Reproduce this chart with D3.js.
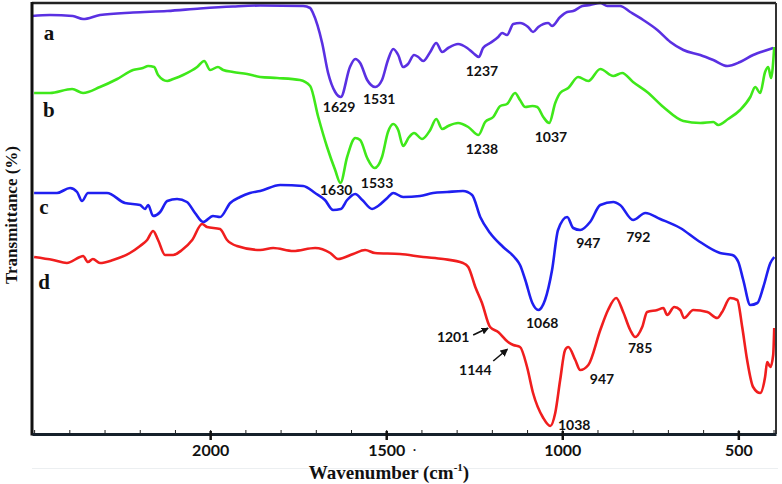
<!DOCTYPE html>
<html>
<head>
<meta charset="utf-8">
<script src="https://cdn.jsdelivr.net/npm/d3@7"></script>
<style>
  body { margin: 0; background: #fff; }
  svg { display: block; }
</style>
</head>
<body>
<script>
// FTIR spectra, wavenumber (cm-1) vs. transmittance (offset, arbitrary %)
const curveA = [[2506,83.6],[2455,83.8],[2390,83.6],[2361,83.0],[2313,83.8],[2219,84.3],[2122,84.6],[2029,85.1],[1935,85.5],[1858,85.7],[1736,85.6],[1716,85.2],[1708,84.2],[1682,78.2],[1665,72.2],[1645,68.4],[1629,67.4],[1603,73.4],[1588,75],[1574,74.2],[1554,70.8],[1531,69.4],[1512,70.8],[1495,74.8],[1480,77],[1466,75.8],[1452,73.4],[1438,74],[1421,75.8],[1409,75.4],[1395,74.6],[1375,76.4],[1358,78.2],[1341,76.4],[1324,77.2],[1296,78],[1270,77.2],[1253,76.2],[1237,75.4],[1225,77.2],[1205,78.2],[1182,79.4],[1171,80.2],[1157,79.8],[1139,82],[1120,82.2],[1097,81.4],[1083,80.4],[1068,81.4],[1040,82.2],[1029,81.6],[1006,83.4],[986,84.4],[969,84.6],[943,85.6],[921,85.8],[892,86.2],[872,85.6],[836,85.6],[807,84.4],[770,82.8],[730,80.8],[693,78.4],[656,76.8],[608,75.8],[571,74.8],[531,73.6],[495,74.4],[458,75.8],[418,76.8],[401,77.2]];

const curveB = [[2500,68.2],[2455,68.2],[2392,69],[2361,68.2],[2313,69.4],[2264,71],[2219,72.8],[2191,73.2],[2176,73.6],[2159,73.4],[2148,71.8],[2122,70.6],[2105,71],[2077,71.8],[2037,73.4],[2017,74.6],[2000,72.8],[1978,73.4],[1963,72.8],[1935,72.4],[1895,72],[1858,71.4],[1810,71.2],[1745,70.8],[1716,69.6],[1693,63.4],[1668,57.4],[1645,52.8],[1630,50.2],[1611,55.4],[1588,59.2],[1574,58.8],[1554,55.2],[1533,53.2],[1512,55.4],[1495,60.4],[1480,62],[1466,60.8],[1452,57.6],[1435,59.4],[1421,60.2],[1398,59],[1375,60.8],[1358,63],[1341,61],[1324,61.6],[1296,62.2],[1267,61.4],[1238,59.8],[1219,62.4],[1196,63.4],[1176,65.6],[1157,66],[1134,68.2],[1120,66.8],[1105,65.4],[1085,65.6],[1071,65.4],[1054,63.4],[1037,62.2],[1020,66.2],[1006,68.2],[983,69.2],[955,71.4],[926,70.6],[892,73],[855,71.6],[830,72.2],[799,70.4],[759,68.4],[713,65.4],[656,62.6],[608,62.2],[571,62.4],[557,61.8],[529,63],[495,64.8],[466,67.4],[452,69.4],[438,68.2],[424,72.4],[415,73.4],[407,71.2],[398,77.4]];

const curveC = [[2500,48.2],[2435,48.2],[2398,49.2],[2378,48.4],[2364,46.6],[2347,48.2],[2293,48.2],[2242,46.2],[2199,45.8],[2185,45],[2176,45.8],[2162,43.6],[2142,44.4],[2122,46.6],[2094,47],[2066,46.4],[2043,44.2],[2020,42.4],[1992,43.6],[1972,43.4],[1943,46.2],[1915,47.4],[1887,48.2],[1858,48.6],[1801,49.8],[1736,49.6],[1702,48.2],[1674,46.8],[1651,44.8],[1629,45],[1611,46.8],[1588,48],[1568,46.8],[1540,45],[1523,45.6],[1497,47.2],[1480,48.2],[1452,47.4],[1404,47.6],[1367,48.2],[1327,48.4],[1282,48.6],[1256,47.8],[1233,43.4],[1205,40.2],[1168,37.4],[1134,35.2],[1120,33.8],[1105,30.8],[1085,26.2],[1068,24.8],[1049,26.8],[1029,32.8],[1012,40.8],[986,43.4],[969,41.2],[949,40.8],[921,42.4],[892,45.8],[855,46.4],[836,45.8],[799,42.8],[764,44.2],[722,43],[665,41.2],[617,38.8],[552,36.2],[517,35.8],[500,34.4],[486,30.8],[466,25.8],[446,26.2],[429,29.4],[409,34.2],[398,35.4]];

const curveD = [[2500,35.4],[2446,34.8],[2407,34.2],[2370,35.4],[2361,35.6],[2347,34.4],[2333,35],[2313,34.2],[2276,34.8],[2228,36.2],[2199,37.6],[2179,38.8],[2162,40.6],[2148,38.8],[2128,35.8],[2105,35.8],[2080,36.8],[2051,38.8],[2023,42],[2009,41.4],[1972,41],[1952,38.8],[1924,37.6],[1858,36.8],[1821,37.2],[1764,36.6],[1702,37.2],[1659,36.2],[1637,35],[1594,36],[1560,36.8],[1532,36.2],[1461,36],[1395,35.4],[1338,35],[1282,34.2],[1267,33.4],[1247,29.4],[1228,26.2],[1205,21.4],[1182,20.4],[1154,18.4],[1139,17.8],[1120,17.4],[1100,13.4],[1083,8.2],[1054,3.2],[1034,1.6],[1020,4.2],[1006,10.8],[992,16.8],[983,17.4],[963,14.8],[949,12.8],[926,13.8],[892,20.8],[870,24.8],[847,27.2],[827,24.4],[807,20.8],[793,19.4],[773,21.4],[759,24.4],[730,24.8],[713,25.2],[702,23.8],[682,25.4],[665,24.8],[654,23.2],[628,24.8],[588,24.4],[560,23.2],[546,24.4],[523,27.2],[503,26.8],[489,21.4],[475,14.8],[458,9.4],[438,8.2],[424,11.4],[418,14.4],[409,13.4],[401,15.8],[398,21.2]];

const seriesNames = ["a", "b", "c", "d"];
const seriesColors = ["#5a30e2", "#3fe81a", "#1f1ff0", "#f01e1e"];
const seriesData = [curveA, curveB, curveC, curveD];
// where each curve letter sits (wavenumber, transmittance)
const letterPos = [[2458, 80.2], [2458, 64.8], [2472, 45.4], [2472, 30.4]];

const xTicks = [2000, 1500, 1000, 500];

// peak labels: text, wavenumber and transmittance of label centre
const peakLabels = [
  ["1629", 1634, 65.4], ["1531", 1520, 67], ["1237", 1228, 72.6],
  ["1630", 1642, 48.8], ["1533", 1526, 50.2], ["1238", 1228, 57], ["1037", 1032, 59.4],
  ["947", 926, 38.2], ["792", 784, 39.4], ["1068", 1057, 22.2],
  ["785", 779, 17.2], ["947", 887, 11], ["1038", 966, 1.8],
  ["1201", 1310, 19.4], ["1144", 1247, 12.8]
];
// arrows: from [wn, T] to [wn, T]
const arrows = [
  [[1253, 19.8], [1211, 21.2]],
  [[1196, 14.6], [1157, 16.9]]
];

const width = 782, height = 484;
const plotLeft = 32, plotRight = 776, plotTop = 3, plotBottom = 434;

const svg = d3.select("body").append("svg")
  .attr("width", width)
  .attr("height", height);

svg.append("defs").append("marker")
  .attr("id", "arr")
  .attr("viewBox", "0 0 10 10")
  .attr("refX", 8).attr("refY", 5)
  .attr("markerWidth", 5).attr("markerHeight", 5)
  .attr("orient", "auto")
  .append("path")
  .attr("d", "M0,0 L10,5 L0,10 Z")
  .attr("fill", "#111");

const x = d3.scaleLinear().domain([2506, 393]).range([plotLeft, plotRight]);
const y = d3.scaleLinear().domain([0, 86.2]).range([plotBottom, plotTop]);

// curves
const line = d3.line()
  .x(d => x(d[0]))
  .y(d => y(d[1]))
  .curve(d3.curveMonotoneX);

svg.append("g")
  .selectAll("path")
  .data(seriesData)
  .join("path")
  .attr("d", line)
  .attr("fill", "none")
  .attr("stroke", (d, i) => seriesColors[i])
  .attr("stroke-width", 2.6)
  .attr("stroke-linejoin", "round");

// frame
svg.append("line").attr("x1", plotLeft).attr("x2", plotRight).attr("y1", plotTop).attr("y2", plotTop)
  .attr("stroke", "#222").attr("stroke-width", 2.5);
svg.append("line").attr("x1", plotRight).attr("x2", plotRight).attr("y1", plotTop).attr("y2", plotBottom)
  .attr("stroke", "#333").attr("stroke-width", 2);
svg.append("line").attr("x1", plotLeft).attr("x2", plotLeft).attr("y1", plotTop - 1).attr("y2", plotBottom + 1.5)
  .attr("stroke", "#111").attr("stroke-width", 3);

// minor ticks (inside)
svg.append("g")
  .attr("transform", `translate(0,${plotBottom})`)
  .call(d3.axisBottom(x).tickValues(d3.range(2500, 399, -100)).tickSize(-4).tickFormat(""))
  .call(g => g.select(".domain").remove())
  .call(g => g.selectAll("line").attr("stroke", "#222").attr("stroke-width", 1));

// major axis
const xAxis = svg.append("g")
  .attr("transform", `translate(0,${plotBottom})`)
  .call(d3.axisBottom(x).tickValues(xTicks).tickFormat(d3.format("d"))
    .tickSize(6).tickSizeOuter(0).tickPadding(5));
xAxis.select(".domain").attr("stroke", "#15202a").attr("stroke-width", 3);
xAxis.selectAll(".tick line").attr("stroke", "#111").attr("stroke-width", 2.5).attr("y1", -3);
xAxis.selectAll(".tick text")
  .attr("font-family", "Lato, 'Open Sans', sans-serif")
  .attr("font-weight", "bold")
  .attr("font-size", 16)
  .attr("fill", "#111");

// stray dot near 1500 in the original figure
svg.append("text").attr("x", x(1424)).attr("y", 451)
  .attr("font-size", 12).attr("font-weight", "bold").attr("fill", "#111").text(".");

// light rule under tick labels
svg.append("line").attr("x1", plotLeft).attr("x2", 778).attr("y1", 468.5).attr("y2", 468.5)
  .attr("stroke", "#eceff1").attr("stroke-width", 1);

// axis titles
const xTitle = svg.append("text")
  .attr("x", 389).attr("y", 479)
  .attr("text-anchor", "middle")
  .attr("font-family", "'Liberation Serif', 'DejaVu Serif', serif")
  .attr("font-weight", "bold")
  .attr("font-size", 19)
  .attr("fill", "#111");
xTitle.append("tspan").text("Wavenumber (cm");
xTitle.append("tspan").attr("font-size", 11).attr("dy", -8).text("-1");
xTitle.append("tspan").attr("dy", 8).text(")");

svg.append("text")
  .attr("transform", `translate(17,${215}) rotate(-90)`)
  .attr("text-anchor", "middle")
  .attr("font-family", "'Liberation Serif', serif")
  .attr("font-weight", "bold")
  .attr("font-size", 17)
  .attr("fill", "#111")
  .text("Transmittance (%)");

// curve letters
svg.append("g")
  .selectAll("text")
  .data(seriesNames)
  .join("text")
  .attr("x", (d, i) => x(letterPos[i][0]))
  .attr("y", (d, i) => y(letterPos[i][1]))
  .attr("dy", "0.35em")
  .attr("text-anchor", "middle")
  .attr("font-family", "'Liberation Serif', serif")
  .attr("font-weight", "bold")
  .attr("font-size", 21)
  .attr("fill", "#111")
  .text(d => d);

// peak labels
svg.append("g")
  .selectAll("text")
  .data(peakLabels)
  .join("text")
  .attr("x", d => x(d[1]))
  .attr("y", d => y(d[2]))
  .attr("dy", "0.36em")
  .attr("text-anchor", "middle")
  .attr("font-family", "Lato, 'Open Sans', sans-serif")
  .attr("font-weight", "bold")
  .attr("font-size", 14)
  .attr("fill", "#111")
  .text(d => d[0]);

svg.append("g")
  .selectAll("line")
  .data(arrows)
  .join("line")
  .attr("x1", d => x(d[0][0])).attr("y1", d => y(d[0][1]))
  .attr("x2", d => x(d[1][0])).attr("y2", d => y(d[1][1]))
  .attr("stroke", "#111")
  .attr("stroke-width", 1.6)
  .attr("marker-end", "url(#arr)");
</script>
</body>
</html>
